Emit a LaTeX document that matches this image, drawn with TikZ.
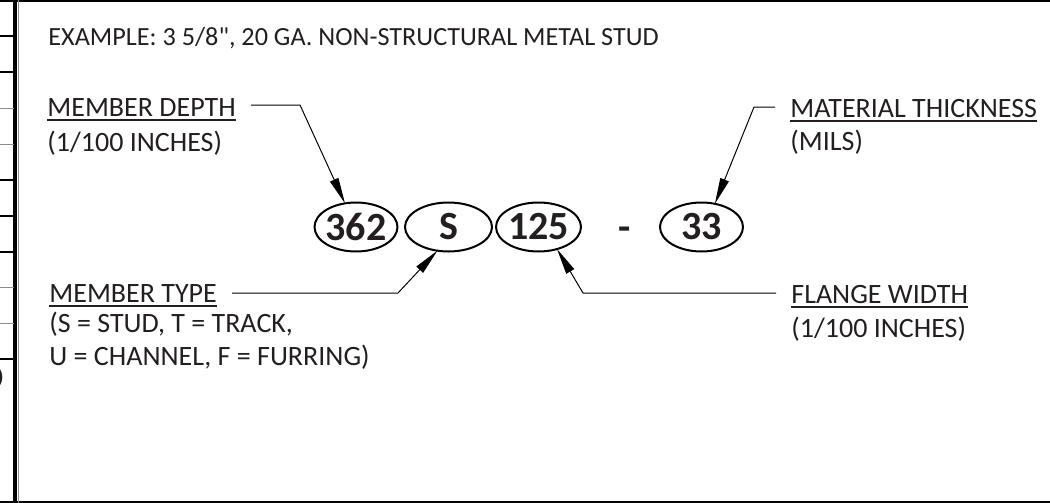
\documentclass[tikz,border=0pt]{standalone}
\usepackage{fontspec}
\setmainfont{Carlito}[Ligatures=TeXOff]
\usetikzlibrary{shapes.geometric, arrows.meta}
\definecolor{inkA}{HTML}{231F20}
\newcommand{\ulined}[1]{\setbox0\hbox{#1}\rlap{\rule[-2.7pt]{\wd0}{1.2pt}}\box0}

\begin{document}
\begin{tikzpicture}[
    x=0.5pt, y=-0.5pt,
    lbl/.style={font=\fontsize{14}{16.5}\selectfont, text=inkA,
        inner sep=0pt, anchor=base west, align=left},
    head/.style={lbl, inner xsep=7.5pt},
    code/.style={ellipse, draw, line width=1pt, inner sep=0pt, outer sep=0pt,
        minimum height=24.5pt, text=inkA,
        font=\fontsize{20}{20}\bfseries\selectfont},
    ldr/.style={line width=0.5pt, -{Triangle[length=13pt, width=4.5pt]}},
    rowline/.style={line width=0.8pt, black},
    rowfaint/.style={line width=0.5pt, black!45},
]
\useasboundingbox (0,0) rectangle (1050,503);

% sheet border (cut at the left)
\draw[line width=1.2pt] (0,1.2) -- (1050,1.2);
\draw[line width=1pt] (0,501.5) -- (1050,501.5);
\draw[line width=2pt] (15.3,0) -- (15.3,503);
\draw[rowfaint] (18,0) -- (18,503);

% rows of the next table
\foreach \y in {36,72,180,216,252,359}
    \draw[rowline] (0,\y) -- (14,\y);
\foreach \y in {108,144,287,323}
    \draw[rowfaint] (0,\y) -- (14,\y);
\node[font=\fontsize{20}{20}\selectfont, text=inkA, inner sep=0pt,
    anchor=base east] (cutD) at (5,390) {D};

% title
\node[lbl, font=\fontsize{13.1}{16}\selectfont] (title) at (48,45)
    {EXAMPLE: 3 5/8", 20 GA. NON-STRUCTURAL METAL STUD};

% designation
\node[code, minimum width=41.5pt] (d362) at (356,227) {\makebox[0pt]{362}};
\node[code, minimum width=43.5pt] (dS) at (448.5,227) {\makebox[0pt]{S}};
\node[code, minimum width=42.5pt] (d125) at (538.5,227) {\makebox[0pt]{125}};
\node[code, draw=none, anchor=base] (dash) at (625,240) {-};
\node[code, minimum width=41.5pt] (d33) at (701.5,227) {\makebox[0pt]{33}};

% member depth
\node[head] (depth) at (32,116) {\ulined{MEMBER DEPTH}};
\node[lbl] (depthnote) at (47,151) {(1/100 INCHES)};
\coordinate (depthbend) at (300,105);
\draw[ldr] (depth.east |- depthbend) -- (depthbend) -- (d362.115);

% material thickness
\node[head] (thick) at (775,117) {\ulined{MATERIAL THICKNESS}};
\node[lbl] (thicknote) at (790,150) {(MILS)};
\coordinate (thickbend) at (754,107);
\draw[ldr] (thick.west |- thickbend) -- (thickbend) -- (d33.60);

% member type
\node[head] (type) at (34,302) {\ulined{MEMBER TYPE}};
\node[lbl] (typenote) at (49,365)
    {(S = STUD, T = TRACK,\\U = CHANNEL, F = FURRING)};
\coordinate (typebend) at (398,293);
\draw[ldr] (type.east |- typebend) -- (typebend) -- (dS.245);

% flange width
\node[head] (flange) at (776,303) {\ulined{FLANGE WIDTH}};
\node[lbl] (flangenote) at (791,337) {(1/100 INCHES)};
\coordinate (flangebend) at (583,293);
\draw[ldr] (flange.west |- flangebend) -- (flangebend) -- (d125.310);

\end{tikzpicture}
\end{document}
